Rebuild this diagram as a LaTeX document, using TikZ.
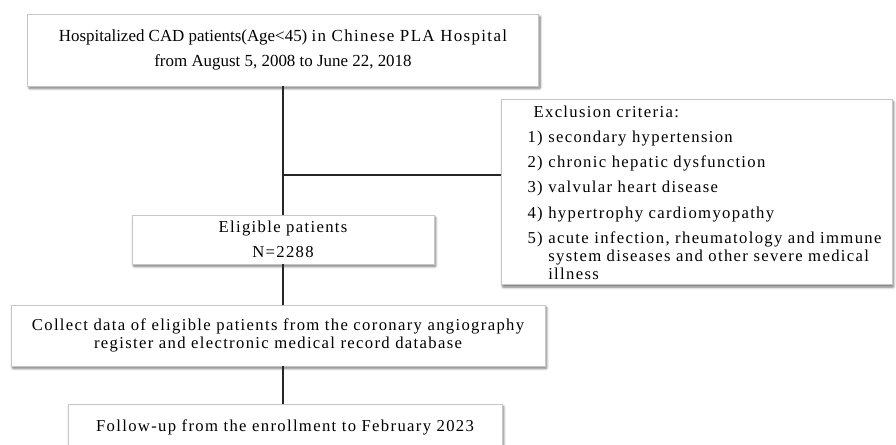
\documentclass[tikz,border=0pt]{standalone}
\usepackage{fontspec}
\setmainfont{Liberation Serif}
\newfontfamily\widefont[LetterSpace=8]{Liberation Serif}
\usetikzlibrary{shadows.blur}

\tikzset{
  flowbox/.style={draw=gray!45, fill=white, line width=0.4pt, inner sep=0pt, align=center,
    blur shadow={shadow xshift=1.2pt, shadow yshift=-1.8pt, shadow blur steps=6, shadow blur extra rounding=0.5pt, shadow opacity=55}},
  link/.style={draw=black!85, line width=0.8pt}
}

\begin{document}
\begin{tikzpicture}[x=0.75pt, y=-0.75pt, font=\fontsize{12.7}{18.75}\selectfont]
    \useasboundingbox (0,0) rectangle (896,445);
    \node[flowbox, minimum width=383.25pt, minimum height=54pt] (source) at (283,50)
      {Hospitalized CAD patients(Age<45) {\widefont in Chinese PLA Hospital}\\
       from August 5, 2008 to June 22, 2018};
    \node[flowbox, minimum width=293.25pt, minimum height=135.75pt, font=\widefont\fontsize{12.5}{13.5}\selectfont] (exclude) at (696.5,192)
      {\begin{tabular}{@{\hspace{12pt}}l@{}}
        \noalign{\vskip 4.5pt}
        \hspace{4.5pt}Exclusion criteria:\\[5pt]
        1) secondary hypertension\\[5.4pt]
        2) chronic hepatic dysfunction\\[5.4pt]
        3) valvular heart disease\\[5.4pt]
        4) hypertrophy cardiomyopathy\\[5.4pt]
        5) acute infection, rheumatology and immune\\
        \phantom{5) }system diseases and other severe medical\\
        \phantom{5) }illness
       \end{tabular}};
    \node[flowbox, minimum width=226.5pt, minimum height=36.75pt, font=\widefont\fontsize{12.5}{18.75}\selectfont] (eligible) at (283,239.5)
      {Eligible patients\\N=2288};
    \node[flowbox, minimum width=400.5pt, minimum height=45.75pt, font=\widefont\fontsize{12.5}{13.5}\selectfont] (collect) at (278,335.5)
      {Collect data of eligible patients from the coronary angiography\\
       register and electronic medical record database};
    \node[flowbox, minimum width=325.5pt, minimum height=34.5pt, font=\widefont\fontsize{12.5}{13.5}\selectfont] (followup) at (285,427)
      {Follow-up from the enrollment to February 2023};
    \coordinate (branch) at (283,175);
    \draw[link] (source.south) -- (eligible.north);
    \draw[link] (branch) -- (branch -| exclude.west);
    \draw[link] (eligible.south) -- (eligible.south |- collect.north);
    \draw[link] (eligible.south |- collect.south) -- (eligible.south |- followup.north);
\end{tikzpicture}
\end{document}
